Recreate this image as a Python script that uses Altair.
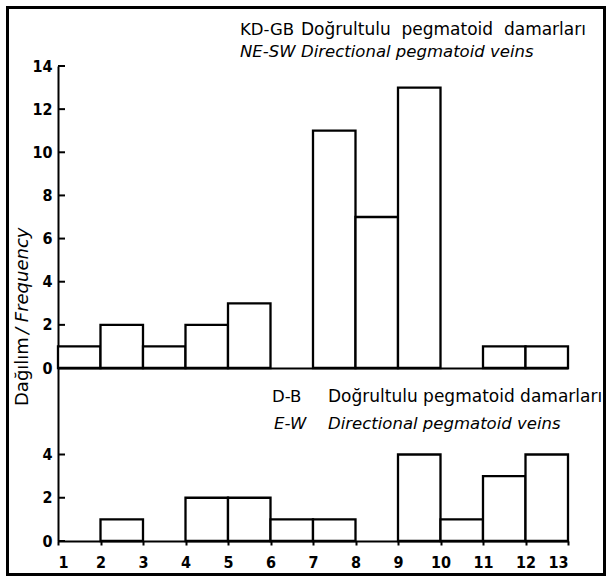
import altair as alt
import pandas as pd

# ---- data ----
bin_start = list(range(1, 13))
bin_end = list(range(2, 14))
ne_sw_counts = [1, 2, 1, 2, 3, 0, 11, 7, 13, 0, 1, 1]
e_w_counts = [0, 1, 0, 2, 2, 1, 1, 0, 4, 1, 3, 4]
top_ticks = [0, 2, 4, 6, 8, 10, 12, 14]
bottom_ticks = [0, 2, 4]
x_ticks = list(range(1, 14))
SP = "\u00a0\u00a0"
top_code_tr, top_rest_tr = "KD-GB", SP.join(["Doğrultulu", "pegmatoid", "damarları"])
top_code_en, top_rest_en = "NE-SW", "Directional pegmatoid veins"
bot_code_tr, bot_rest_tr = "D-B", "Doğrultulu pegmatoid damarları"
bot_code_en, bot_rest_en = "E-W", "Directional pegmatoid veins"
ytitle_tr = "Dağılım"
ytitle_en = "/ Frequency"

FONT = "DejaVu Sans"
LFONT = "DejaVu Sans Condensed"
W = 510
H_TOP = 302
H_BOT = 173
TS = 16.5

top_df = pd.DataFrame({"start": bin_start, "end": bin_end, "count": ne_sw_counts})
bot_df = pd.DataFrame({"start": bin_start, "end": bin_end, "count": e_w_counts})

xscale = alt.Scale(domain=[1, 13], nice=False, zero=False)


def text_layer(txt, x, y, size=TS, style="normal", angle=0):
    return alt.Chart(pd.DataFrame({"t": [txt]})).mark_text(
        align="left", baseline="middle", font=FONT, fontSize=size,
        fontStyle=style, color="black", angle=angle
    ).encode(text="t:N", x=alt.value(x), y=alt.value(y))


def panel(df, ticks, ymax, height, xaxis, titles):
    yscale = alt.Scale(domain=[0, ymax], nice=False, zero=True)
    bars = alt.Chart(df).transform_filter("datum.count > 0").mark_rect(
        fill="white", stroke="black", strokeWidth=2.3
    ).encode(
        x=alt.X("start:Q", scale=xscale, axis=xaxis),
        x2="end:Q",
        y=alt.Y("count:Q", scale=yscale,
                axis=alt.Axis(values=ticks, ticks=False, labelPadding=6,
                              title=None, grid=False, format="d")),
        y2=alt.datum(0),
    )
    tick_rules = alt.Chart(pd.DataFrame({"v": ticks})).mark_rule(
        color="black", strokeWidth=2
    ).encode(
        y=alt.Y("v:Q", scale=yscale),
        x=alt.value(0), x2=alt.value(7),
    )
    layers = [bars, tick_rules] + titles
    return alt.layer(*layers).properties(width=W, height=height)


frame = alt.Chart(pd.DataFrame({"a": [0]})).mark_rect(
    fill=None, stroke="black", strokeWidth=3
).encode(
    x=alt.value(-50.5), x2=alt.value(546.5),
    y=alt.value(-58.5), y2=alt.value(508.5),
)

# top panel origin is at (58, 68) on the page
top_titles = [
    text_layer(top_code_tr, 182, -36, TS),
    text_layer(top_rest_tr, 243, -36, 17),
    text_layer(top_code_en, 182, -14, TS, "italic"),
    text_layer(top_rest_en, 243, -14, TS, "italic"),
    text_layer(ytitle_tr, -35, 340, 18, "normal", 270),
    text_layer(ytitle_en, -35, 268, 18, "italic", 270),
    frame,
]
# bottom panel origin is at (58, 370)
bottom_titles = [
    text_layer(bot_code_tr, 214, 29, TS),
    text_layer(bot_rest_tr, 270, 29, 17),
    text_layer(bot_code_en, 216, 56, TS, "italic"),
    text_layer(bot_rest_en, 270, 56, TS, "italic"),
]

top = panel(top_df, top_ticks, 14, H_TOP,
            alt.Axis(labels=False, ticks=False, domain=True, title=None, grid=False),
            top_titles)
bottom = panel(bot_df, bottom_ticks, 8, H_BOT,
               alt.Axis(values=x_ticks, title=None, grid=False, tickSize=4,
                        labelPadding=9, format="d"),
               bottom_titles)

chart = alt.vconcat(top, bottom, spacing=0, bounds="flush").properties(
    padding={"left": 6, "top": 6, "right": 0, "bottom": 0},
    background="white",
).configure_view(stroke=None).configure_axis(
    domainColor="black", domainWidth=2, tickColor="black", tickWidth=2,
    labelColor="black", labelFont=LFONT, labelFontSize=16, labelFontWeight="bold",
)

chart.save("out.html", embed_options={"renderer": "svg", "actions": False})
